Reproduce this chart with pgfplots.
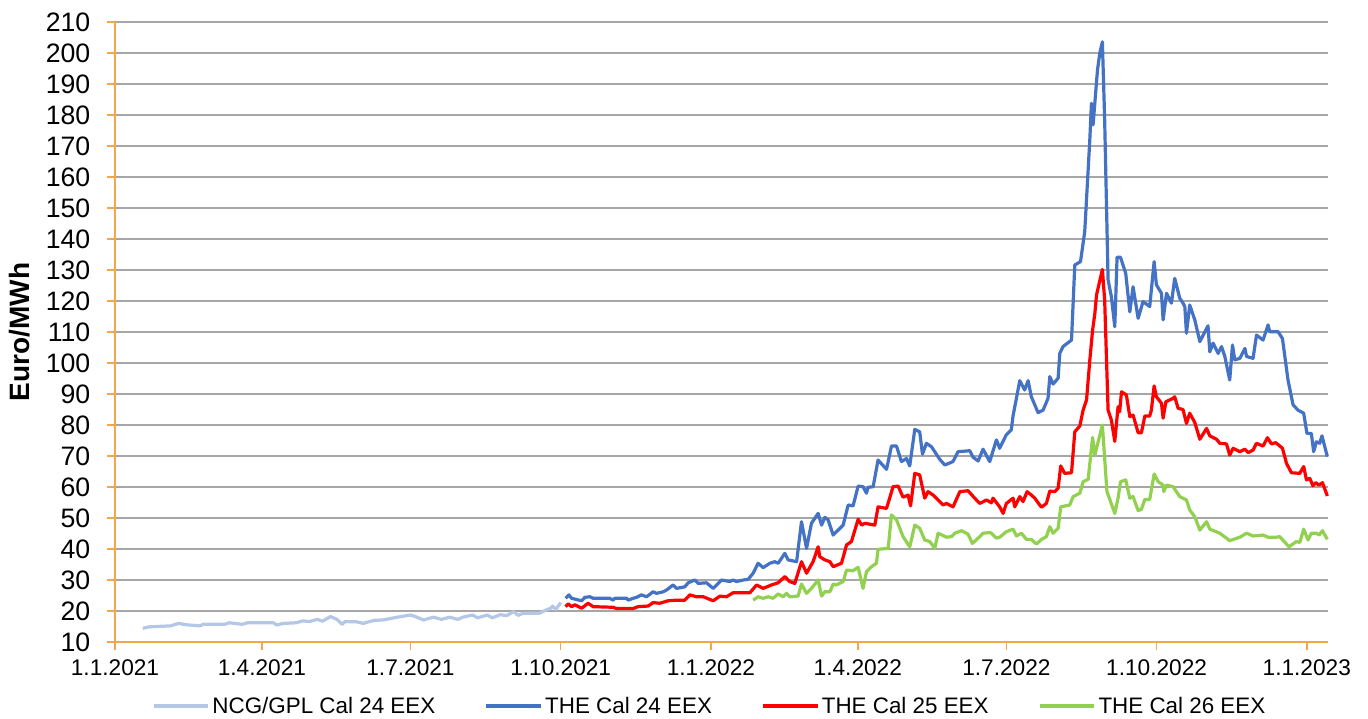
\documentclass[border=0pt]{standalone}
\usepackage{fontspec}
\setmainfont{Liberation Sans}
\usepackage{pgfplots}
\pgfplotsset{compat=1.18}
\definecolor{axorange}{RGB}{245,165,74}
\definecolor{gridgray}{RGB}{166,166,166}
\definecolor{ncg}{RGB}{180,199,231}
\definecolor{the24}{RGB}{68,114,196}
\definecolor{the25}{RGB}{255,0,0}
\definecolor{the26}{RGB}{146,208,80}
\begin{document}
\begin{tikzpicture}
\path[use as bounding box] (-86.25pt,-57pt) rectangle (939.75pt,481.5pt);
\begin{axis}[
  at={(0pt,0pt)}, anchor=origin,
  scale only axis, width=909.75pt, height=465pt,
  xmin=0, xmax=743, ymin=10, ymax=210,
  axis x line*=bottom, axis y line*=left,
  axis line style={axorange, line width=1.2pt},
  every tick/.style={axorange, line width=1.2pt},
  tick align=outside, major tick length=6pt,
  xtick={0,90,181,273,365,455,546,638,730},
  xticklabels={1.1.2021,1.4.2021,1.7.2021,1.10.2021,1.1.2022,1.4.2022,1.7.2022,1.10.2022,1.1.2023},
  ytick={10,20,...,210},
  /pgf/number format/assume math mode=true,
  yticklabel style={font=\fontsize{20}{23}\selectfont, anchor=east, xshift=-9pt},
  xticklabel style={font=\fontsize{17}{20}\selectfont, anchor=north, yshift=-4pt},
  ymajorgrids, grid style={gridgray, line width=1.1pt},
  ylabel={\textbf{Euro/MWh}},
  ylabel style={font=\fontsize{21}{24}\selectfont, at={(axis description cs:-0.0783,0.5)}, anchor=center, rotate=0},
  legend columns=4,
  legend style={at={(0.4905,-0.1032)}, anchor=center, draw=none, fill=none,
    font=\fontsize{16.8}{20}\selectfont,
    /tikz/every even column/.append style={column sep=35pt}},
  legend image code/.code={\draw[#1, line width=2.4pt] (0pt,0pt) -- (41pt,0pt);},
  every axis plot/.append style={line width=2.4pt, line join=round},
  clip=false,
]
\addplot[ncg] coordinates {
(17,14.4)(21,14.9)(34,15.2)(39,16.0)(43,15.6)(52,15.2)(54,15.7)(67,15.7)(70,16.2)(78,15.7)(81,16.2)(97,16.2)(99,15.5)(103,16.0)(111,16.2)(115,16.8)(119,16.6)(124,17.3)(127,16.7)(132,18.2)(136,17.3)(139,15.7)(141,16.6)(148,16.5)(152,16.0)(156,16.6)(159,17.0)(164,17.1)(173,18.0)(181,18.7)(184,18.2)(189,17.1)(195,18.0)(200,17.3)(205,18.0)(210,17.3)(213,18.0)(219,18.7)(222,17.8)(228,18.7)(231,17.8)(236,18.8)(240,18.5)(244,19.8)(247,18.6)(250,19.3)(260,19.3)(264,20.3)(267,20.9)(268,21.6)(270,20.5)(273,22.7)
};
\addlegendentry{NCG/GPL Cal 24 EEX}
\addplot[the24] coordinates {
(276.0,24.1)(278.0,25.2)(279.7,24.1)(285.8,23.3)(287.8,24.4)(290.9,24.6)(292.9,24.1)(303.1,24.1)(305.1,23.5)(306.2,24.1)(313.4,24.1)(314.3,23.5)(317.4,24.1)(319.5,24.4)(322.5,25.2)(325.6,24.6)(329.6,26.2)(331.7,25.7)(335.8,26.2)(337.9,26.8)(341.9,28.4)(344.0,27.3)(349.0,27.8)(351.1,29.1)(355.2,30.0)(357.2,28.9)(362.3,29.1)(366.4,27.3)(371.5,30.0)(376.6,29.5)(378.6,30.0)(380.7,29.5)(384.8,30.0)(387.8,30.2)(390.9,32.2)(393.9,35.4)(397.0,34.0)(401.1,35.4)(404.1,35.9)(406.2,35.4)(410.3,38.6)(412.3,36.5)(417.5,35.9)(420.5,48.8)(423.6,40.2)(426.6,48.3)(430.7,51.5)(432.8,47.7)(434.8,50.2)(436.8,49.4)(439.9,44.5)(446.0,47.7)(449.1,54.2)(452.1,53.9)(455.2,60.3)(458.2,60.1)(460.3,58.0)(461.3,59.9)(464.4,60.1)(467.4,68.7)(472.6,65.7)(475.6,73.2)(478.7,73.2)(481.7,68.2)(484.8,69.2)(486.8,66.8)(489.9,78.6)(492.9,77.8)(494.6,70.6)(497.0,74.1)(500.1,73.0)(505.2,68.9)(508.3,67.1)(513.3,68.2)(516.4,71.4)(523.6,71.7)(525.6,69.6)(528.7,68.4)(531.7,72.2)(535.8,68.2)(539.9,75.2)(541.9,72.5)(545.9,76.8)(549.0,78.4)(550.1,83.0)(554.2,94.3)(557.2,91.3)(559.3,94.3)(561.3,89.1)(565.4,84.0)(568.5,84.8)(571.5,88.6)(572.6,95.6)(574.6,93.2)(577.7,95.1)(578.7,103.1)(580.7,105.3)(585.9,107.4)(587.9,131.6)(591.4,132.7)(594.0,142.4)(597.1,172.0)(598.1,183.8)(599.1,176.8)(601.8,194.5)(603.2,199.9)(604.8,203.6)(606.2,178.4)(608.3,126.8)(610.3,121.4)(612.4,111.7)(613.8,134.1)(615.9,134.1)(619.1,128.9)(621.6,116.5)(623.6,124.6)(626.7,114.4)(629.7,119.8)(633.8,118.2)(636.5,132.7)(637.9,125.2)(641.0,122.5)(642.0,113.9)(644.1,122.5)(647.1,119.3)(649.1,127.3)(652.2,120.9)(654.2,119.3)(655.3,118.2)(656.3,109.6)(658.3,118.7)(661.4,113.9)(664.5,106.9)(669.5,112.0)(670.6,103.6)(672.6,106.4)(675.7,103.1)(677.8,105.3)(679.8,102.1)(682.8,94.5)(684.5,105.8)(685.9,101.0)(689.0,101.5)(692.1,104.7)(693.1,102.1)(697.1,101.5)(699.2,109.0)(703.2,107.4)(706.3,112.3)(707.3,110.1)(712.4,110.1)(715.1,107.9)(718.5,94.5)(721.6,86.5)(724.6,84.8)(728.1,83.8)(730.1,77.3)(732.8,77.3)(734.2,71.4)(735.9,74.6)(737.9,74.1)(739.3,76.5)(742.6,69.8)
};
\addlegendentry{THE Cal 24 EEX}
\addplot[the25] coordinates {
(276.0,21.4)(277.6,22.3)(279.7,21.4)(281.7,22.0)(285.8,20.9)(289.8,22.5)(292.9,21.4)(305.1,21.2)(307.2,20.8)(317.4,20.8)(320.4,21.4)(326.6,21.6)(329.6,22.7)(333.7,22.5)(338.8,23.3)(344.0,23.5)(349.0,23.5)(352.1,25.2)(356.2,24.6)(360.3,24.6)(366.4,23.3)(370.5,24.8)(374.6,24.6)(378.6,25.9)(388.9,25.9)(393.0,28.4)(397.0,27.3)(402.1,28.4)(406.2,29.1)(410.3,31.1)(413.3,29.5)(416.4,28.9)(420.5,35.9)(423.6,32.2)(427.6,35.9)(430.7,40.7)(431.7,37.5)(434.8,36.5)(437.9,35.9)(439.9,34.3)(445.0,35.4)(448.1,41.3)(451.1,42.4)(455.2,49.6)(457.3,47.7)(459.3,48.3)(465.4,47.7)(467.4,53.6)(472.6,53.1)(476.6,60.1)(479.7,60.3)(482.7,56.7)(485.8,57.4)(487.3,53.9)(489.9,64.4)(492.9,63.9)(496.0,56.4)(498.0,58.5)(501.1,57.4)(507.2,54.2)(509.3,54.7)(513.3,53.6)(517.5,58.5)(522.5,58.8)(526.6,56.4)(529.7,54.7)(533.8,55.8)(536.8,54.9)(537.8,56.4)(541.9,53.6)(544.0,51.5)(546.0,54.7)(550.1,56.4)(551.1,53.6)(554.2,56.9)(556.2,55.3)(558.7,58.5)(561.3,57.4)(563.4,56.4)(566.4,54.2)(567.5,53.5)(570.5,54.7)(572.6,58.7)(575.6,58.5)(577.7,59.6)(579.3,66.8)(581.7,64.4)(585.9,64.6)(587.9,77.8)(591.0,79.7)(593.0,84.8)(595.1,88.1)(597.1,100.9)(598.8,110.6)(600.2,116.0)(601.2,121.9)(604.8,130.2)(606.2,120.3)(608.3,84.8)(610.3,81.6)(612.4,74.7)(614.4,85.9)(615.4,84.3)(616.5,90.7)(619.5,89.7)(621.6,82.7)(623.6,83.2)(626.7,77.5)(628.7,77.5)(630.8,82.9)(633.8,82.9)(634.8,84.8)(636.5,92.6)(637.9,89.1)(641.0,87.0)(642.0,82.2)(643.7,87.5)(648.1,88.6)(649.1,89.1)(651.2,85.4)(654.2,85.0)(656.3,80.5)(658.3,83.8)(661.4,80.8)(664.5,75.4)(668.6,78.9)(670.6,76.5)(674.7,75.4)(676.7,74.1)(680.8,73.9)(682.8,70.3)(684.9,72.5)(689.0,71.4)(692.1,72.2)(694.1,71.1)(697.1,71.9)(699.2,74.1)(703.2,73.2)(705.9,75.9)(708.4,73.9)(711.0,74.3)(715.1,72.5)(717.6,67.6)(720.6,64.6)(725.7,64.4)(728.1,66.6)(729.8,62.3)(731.8,62.8)(733.8,60.4)(735.5,61.4)(737.5,60.6)(739.6,61.4)(742.6,57.1)
};
\addlegendentry{THE Cal 25 EEX}
\addplot[the26] coordinates {
(390.9,23.5)(393.9,24.6)(397.0,24.1)(400.1,24.6)(403.1,24.1)(406.2,25.5)(409.2,24.6)(411.3,25.7)(413.3,24.6)(418.4,24.8)(420.5,28.7)(423.6,25.7)(426.6,27.3)(430.7,30.0)(432.8,24.8)(434.8,26.2)(437.9,26.2)(439.9,28.7)(441.9,28.4)(446.0,29.5)(448.1,33.2)(452.1,33.0)(455.2,34.1)(458.2,27.3)(460.3,32.7)(463.4,34.3)(466.4,35.4)(467.4,39.9)(473.6,40.2)(475.6,51.0)(478.7,49.4)(482.7,44.0)(486.8,40.7)(489.9,47.7)(492.9,46.7)(496.0,42.9)(499.1,42.4)(502.1,40.2)(504.2,45.1)(509.3,43.8)(512.4,44.0)(514.4,45.1)(518.5,45.9)(522.5,44.8)(525.2,41.8)(529.7,44.0)(531.7,45.1)(536.3,45.3)(539.9,43.5)(541.9,43.8)(546.0,45.6)(550.1,46.4)(552.2,44.2)(555.2,45.1)(558.3,43.1)(561.3,43.1)(564.4,41.6)(567.5,43.1)(570.5,44.0)(572.6,47.2)(574.6,45.1)(577.7,46.7)(579.3,53.6)(584.8,54.2)(586.9,56.9)(591.0,58.0)(593.0,61.7)(596.1,62.5)(598.8,76.0)(600.2,70.3)(604.8,80.0)(607.6,58.5)(612.4,51.5)(614.4,56.4)(615.9,61.7)(619.1,62.3)(621.6,56.4)(623.6,56.9)(626.7,52.4)(628.7,52.8)(630.8,56.0)(633.8,56.0)(636.5,64.2)(639.0,61.7)(642.0,60.6)(642.4,58.5)(644.1,60.6)(648.1,60.1)(652.2,56.9)(656.3,55.8)(658.3,52.6)(661.4,50.4)(664.5,46.1)(668.6,48.8)(670.6,46.4)(676.7,45.1)(682.8,42.7)(689.0,43.8)(693.1,45.1)(697.1,44.2)(703.2,44.5)(706.3,43.8)(711.4,43.8)(713.4,44.0)(719.1,40.7)(723.6,42.4)(725.7,42.1)(728.1,46.4)(730.8,42.9)(732.8,45.1)(735.9,45.1)(737.5,44.5)(739.6,45.9)(742.6,43.1)
};
\addlegendentry{THE Cal 26 EEX}
\end{axis}
\end{tikzpicture}
\end{document}
